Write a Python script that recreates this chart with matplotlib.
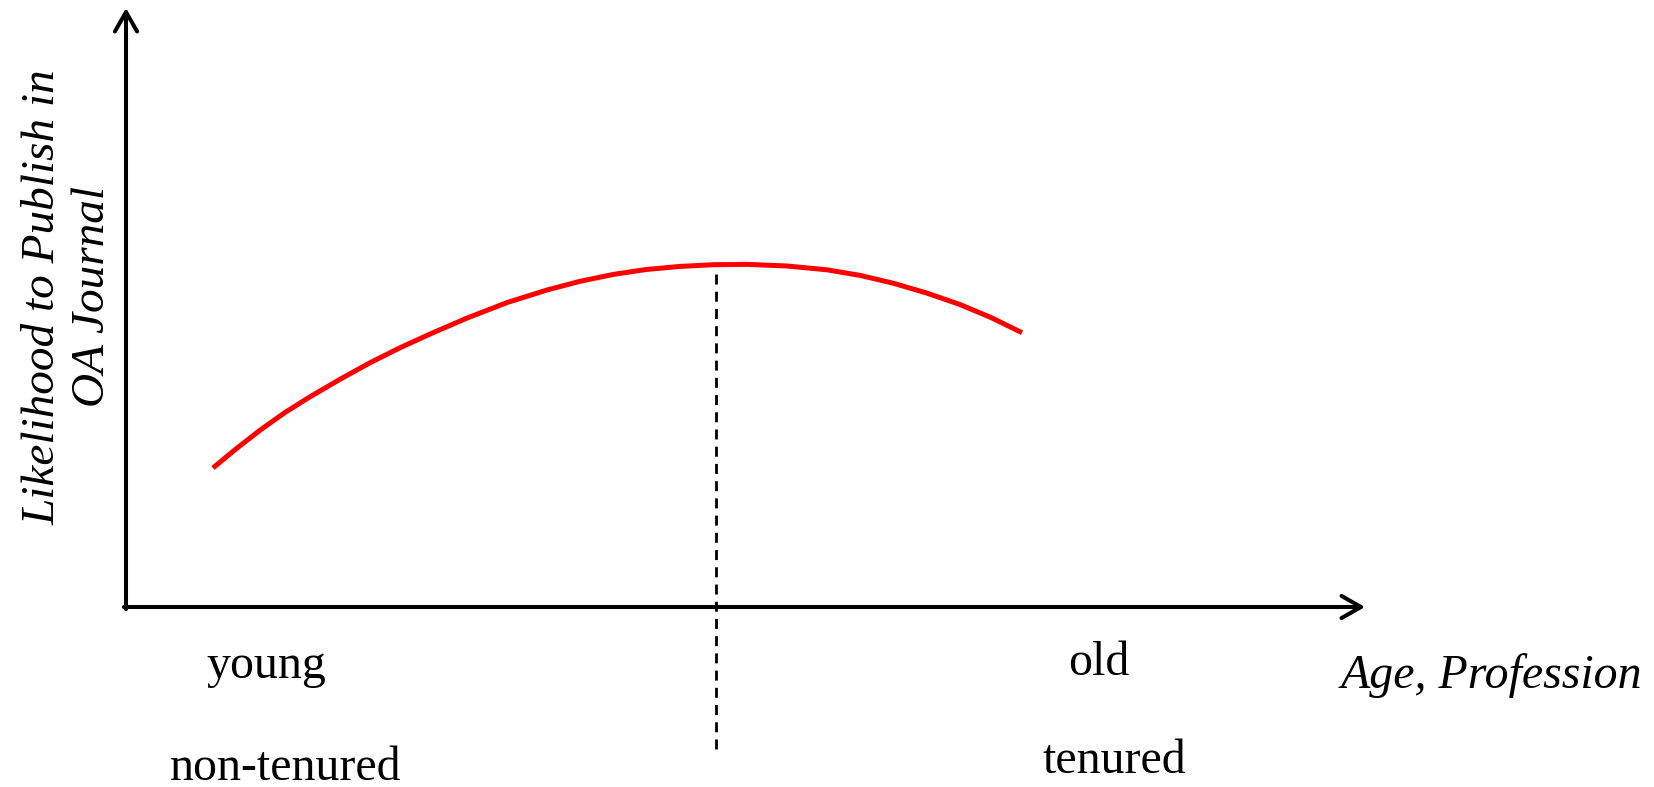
import matplotlib.pyplot as plt

# Curve (x: age / profession, y: likelihood, both 0-100)
age = [7.02, 8.88, 10.82, 12.83, 14.85, 17.27, 19.69, 22.11, 24.78, 27.52,
       30.75, 33.98, 36.64, 39.31, 41.97, 44.71, 47.38, 50.12, 53.35, 56.58,
       59.24, 61.91, 64.57, 67.31, 69.81, 72.32]
likelihood = [23.21, 26.39, 29.52, 32.47, 35.09, 38.01, 40.77, 43.27, 45.79,
              48.23, 50.82, 52.92, 54.37, 55.51, 56.34, 56.86, 57.14, 57.20,
              56.93, 56.29, 55.36, 54.06, 52.45, 50.50, 48.33, 45.79]

# Turning point (dashed marker)
peak_age = 47.6
peak_top = 55.6

# Labels under the x axis
stage_labels = ["young", "non-tenured", "old", "tenured"]
stage_x = [11.3, 12.9, 78.5, 79.8]
stage_y = [-11.9, -28.9, -11.4, -27.7]

x_title = "Age, Profession"
y_title = "Likelihood to Publish in\nOA Journal"

plt.rcParams['font.family'] = ['Liberation Serif', 'DejaVu Serif']

fig = plt.figure(figsize=(16.54, 7.87), dpi=100)
ax = fig.add_axes([0.07618, 0.22872, 0.74909, 0.76112])
ax.set_xlim(0, 100)
ax.set_ylim(0, 100)
ax.axis('off')

# Axis arrows
arrow = dict(arrowstyle='->,head_length=0.7,head_width=0.4', lw=2.9,
             color='black', mutation_scale=20, shrinkA=0, shrinkB=0)
ax.annotate('', xy=(100, 0), xytext=(-0.17, 0), arrowprops=arrow,
            annotation_clip=False)
ax.annotate('', xy=(0, 100), xytext=(0, -0.35), arrowprops=arrow,
            annotation_clip=False)

# The curve
ax.plot(age, likelihood, color='red', lw=3.6, solid_capstyle='butt',
        solid_joinstyle='round', clip_on=False)

# Dashed line at the peak
ax.plot([peak_age, peak_age], [peak_top, -24.0], color='black', lw=2.0,
        dashes=(3.6, 2.6), clip_on=False)

# Text
for lab, x, y in zip(stage_labels, stage_x, stage_y):
    ax.text(x, y, lab, ha='center', va='baseline', fontsize=34.5,
            clip_on=False)

ax.text(98.0, -13.5, x_title, ha='left', va='baseline', fontsize=34.5,
        style='italic', clip_on=False)
ax.text(-4.7, 51.8, y_title, ha='center', va='center', fontsize=34,
        style='italic', rotation=90, multialignment='center',
        clip_on=False)

fig.savefig('out.png', dpi=100)
